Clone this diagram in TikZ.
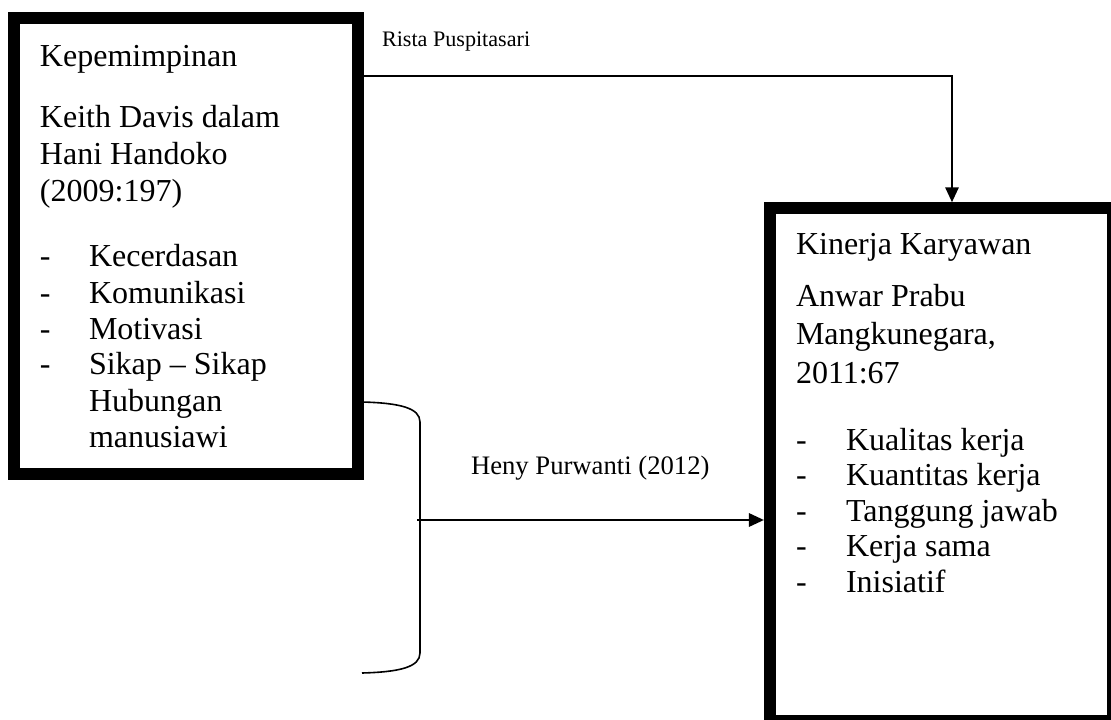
\documentclass[tikz,border=0pt]{standalone}
\usepackage{fontspec}
\setmainfont{Liberation Serif}
\usepackage{tikz}
\usetikzlibrary{arrows.meta}

\begin{document}
\begin{tikzpicture}[x=.375pt, y=-.375pt, line width=.75pt]
    \tikzstyle{box}=[draw, line width=4.5pt, inner sep=0, minimum width=128.7pt]
    \tikzstyle{txt}=[anchor=base west, inner sep=0, font=\fontsize{12}{14}\selectfont]
    \tikzstyle{lbl}=[anchor=base west, inner sep=0, font=\fontsize{10}{12}\selectfont]
    \tikzstyle{conn}=[-{Triangle[length=5.6pt, width=5pt]}]
    \useasboundingbox (0,0) rectangle (1111,720);

    % boxes
    \node[box, minimum height=170.8pt] (kep) at (186,246) {};
    \node[box, minimum height=192.2pt] (kin) at (941.5,464.5) {};

    % left box text
    \node[txt] (kepT) at (39,67) {Kepemimpinan};
    \node[txt] (kepA) at (39,128) {Keith Davis dalam};
    \node[txt] (kepB) at (39,165) {Hani Handoko};
    \node[txt] (kepC) at (39,202) {(2009:197)};
    \foreach \t [count=\i] in {Kecerdasan, Komunikasi, Motivasi, Sikap \textendash{} Sikap}{
        \node[txt] (kepd\i) at (39,{231+36*\i}) {-};
        \node[txt] (kepi\i) at (88,{231+36*\i}) {\t};
    }
    \node[txt] (kepi5) at (88,411) {Hubungan};
    \node[txt] (kepi6) at (88,447) {manusiawi};

    % right box text
    \node[txt] (kinT) at (795,255) {Kinerja Karyawan};
    \node[txt] (kinA) at (795,307) {Anwar Prabu};
    \node[txt] (kinB) at (795,345) {Mangkunegara,};
    \node[txt] (kinC) at (795,383) {2011:67};
    \foreach \t [count=\i] in {Kualitas kerja, Kuantitas kerja, Tanggung jawab, Kerja sama, Inisiatif}{
        \node[txt] (kind\i) at (795,{414.5+35.5*\i}) {-};
        \node[txt] (kini\i) at (845,{414.5+35.5*\i}) {\t};
    }

    % connectors
    \coordinate (turn) at (952,76);
    \draw[conn] (kep.east |- turn) -| (kin.north -| turn);
    \node[lbl, font=\fontsize{8.3}{10}\selectfont] (rista) at (381,47) {Rista Puspitasari};

    \draw[line width=.6pt] (362,402) .. controls (400,403) and (420,408) .. (420,422)
        -- (420,653) .. controls (420,667) and (400,672) .. (362,673);
    \coordinate (brk) at (417,520);
    \draw[conn] (brk) -- (kin.west |- brk);
    \node[lbl] (heny) at (470,474) {Heny Purwanti (2012)};
\end{tikzpicture}
\end{document}
